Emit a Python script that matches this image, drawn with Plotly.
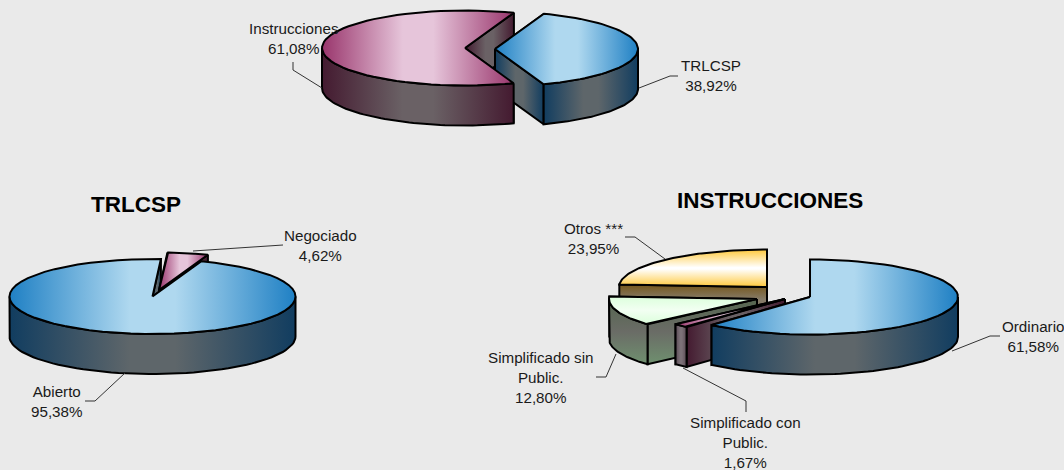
import numpy as np
import plotly.graph_objects as go

# datos
total_labels = ["TRLCSP", "Instrucciones"]
total_values = [38.92, 61.08]
trlcsp_labels = ["Abierto", "Negociado"]
trlcsp_values = [95.38, 4.62]
instr_labels = ["Ordinario", "Simplificado con<br>Public.", "Simplificado sin<br>Public.", "Otros ***"]
instr_values = [61.58, 1.67, 12.80, 23.95]

FONT = "Liberation Sans"
RX, RY, DEPTH = 143, 37.5, 40


def sym(edge, mid, lo=0.42):
    # degradado simetrico: borde oscuro, centro claro
    return [[0, edge], [lo, mid], [1 - lo, mid], [1, edge]]


BLUE = {"top": ("horizontal", sym("#1F80C4", "#AFD8EF")),
        "side": ("horizontal", sym("#113D60", "#5E666A")),
        "wall": ("horizontal", sym("#113D60", "#5E666A"))}
PINK = {"top": ("horizontal", sym("#99356C", "#E6C5DA")),
        "side": ("horizontal", sym("#441A30", "#6A6165")),
        "wall": ("horizontal", sym("#441A30", "#6A6165"))}
MAUVE = {"top": ("horizontal", sym("#99356C", "#E6C5DA")),
         "side": ("horizontal", sym("#5A4A54", "#7C7178")),
         "wall": ("horizontal", sym("#441A30", "#6A6165"))}
# el eje y va invertido, asi que 0 es la parte de abajo del poligono
YELLOW = {"top": ("vertical", sym("#FFC93C", "#FFFFFF", 0.48)),
          "side": ("vertical", [[0, "#857B68"], [0.65, "#857B68"], [1, "#75561A"]]),
          "wall": ("vertical", [[0, "#857B68"], [0.65, "#857B68"], [1, "#75561A"]])}
GREEN = {"top": ("vertical", [[0, "#DCFFDC"], [0.5, "#F2FFF2"], [1, "#DCFFDC"]]),
         "side": ("vertical", [[0, "#6F906F"], [0.5, "#6A6C66"], [1, "#55664F"]]),
         "wall": ("vertical", [[0, "#6F906F"], [0.5, "#6A6C66"], [1, "#55664F"]])}


def add_poly(fig, x, y, colors):
    kind, scale = colors
    fig.add_trace(go.Scatter(x=list(x) + [x[0]], y=list(y) + [y[0]], mode="lines", fill="toself",
                             fillgradient=dict(type=kind, colorscale=scale),
                             line=dict(color="black", width=2), hoverinfo="skip", showlegend=False))


def arc(cx, cy, rx, a, b):
    t = np.radians(np.linspace(a, b, 60))
    return cx + rx * np.sin(t), cy - RY * np.cos(t)


def draw_walls(fig, s):
    # la pared mas cercana al frente se dibuja la ultima
    for ang in sorted((s["a"], s["b"]), key=lambda d: -np.cos(np.radians(d))):
        ex, ey = arc(s["cx"], s["cy"], s["rx"], ang, ang)
        xs = [s["cx"], ex[0], ex[0], s["cx"]]
        ys = [s["cy"], ey[0], ey[0] + DEPTH, s["cy"] + DEPTH]
        add_poly(fig, xs, ys, s["col"]["wall"])


def draw_side(fig, s):
    for k in (0, 1):
        a = max(s["a"], 90 + 360 * k)
        b = min(s["b"], 270 + 360 * k)
        if b > a:
            ax, ay = arc(s["cx"], s["cy"], s["rx"], a, b)
            xs = np.concatenate([ax, ax[::-1]])
            ys = np.concatenate([ay, ay[::-1] + DEPTH])
            add_poly(fig, xs, ys, s["col"]["side"])


def draw_top(fig, s):
    ax, ay = arc(s["cx"], s["cy"], s["rx"], s["a"], s["b"])
    add_poly(fig, np.concatenate([[s["cx"]], ax]), np.concatenate([[s["cy"]], ay]), s["col"]["top"])


def slices(values, start, apexes, colors, rx=RX):
    out = []
    a = start
    for v, apex, col in zip(values, apexes, colors):
        b = a + v * 3.6
        out.append(dict(a=a, b=b, cx=apex[0], cy=apex[1], rx=rx, col=col))
        a = b
    return out


def pct(v):
    return f"{v:.2f}%".replace(".", ",")


fig = go.Figure()

# tarta superior
top = slices(total_values, 20, [(495, 49), (465, 48)], [BLUE, PINK])
draw_walls(fig, top[1])
draw_walls(fig, top[0])
draw_side(fig, top[0])
draw_top(fig, top[0])
draw_side(fig, top[1])
draw_top(fig, top[1])

# TRLCSP
left = slices(trlcsp_values, 20, [(152.5, 296.5), (159, 290)], [BLUE, PINK])
draw_walls(fig, left[0])
draw_walls(fig, left[1])
draw_top(fig, left[1])
draw_side(fig, left[0])
draw_top(fig, left[0])

# INSTRUCCIONES
right = slices(instr_values, 0, [(810, 297), (785, 299), (757, 299), (767, 287)],
               [BLUE, MAUVE, GREEN, YELLOW], rx=148)
for s in right[::-1]:
    draw_walls(fig, s)
    draw_side(fig, s)
    draw_top(fig, s)

# lineas guia de las etiquetas
leaders = [
    [(293, 62), (293, 70), (322, 88)],
    [(678, 76), (670, 76), (639, 88)],
    [(283, 245), (193, 251)],
    [(85, 401), (95, 401), (125, 373)],
    [(625, 237), (635, 237), (665, 259)],
    [(596, 377), (606, 377), (616, 354)],
    [(746, 412), (746, 401), (683, 368)],
    [(1000, 336), (990, 336), (952, 351)],
]
for pts in leaders:
    fig.add_trace(go.Scatter(x=[p[0] for p in pts], y=[p[1] for p in pts], mode="lines",
                             line=dict(color="#333333", width=1), hoverinfo="skip", showlegend=False))

labels = [
    (total_labels[1], total_values[1], 293.5, 38),
    (total_labels[0], total_values[0], 711, 75),
    (trlcsp_labels[1], trlcsp_values[1], 320, 245),
    (trlcsp_labels[0], trlcsp_values[0], 57, 401),
    (instr_labels[3], instr_values[3], 593, 238),
    (instr_labels[2], instr_values[2], 541, 377),
    (instr_labels[1], instr_values[1], 745, 442),
    (instr_labels[0], instr_values[0], 1033, 336),
]
annotations = []
for name, v, x, y in labels:
    annotations.append(dict(x=x, y=y, xref="x", yref="y", text=f"{name}<br>{pct(v)}", showarrow=False,
                            font=dict(family=FONT, size=15.2, color="#1A1A1A"), align="center"))
annotations.append(dict(x=136, y=204, xref="x", yref="y", text="<b>TRLCSP</b>", showarrow=False,
                        font=dict(family=FONT, size=22.5, color="black")))
annotations.append(dict(x=769.5, y=200, xref="x", yref="y", text="<b>INSTRUCCIONES</b>", showarrow=False,
                        font=dict(family=FONT, size=22.5, color="black")))

fig.update_layout(
    width=1064, height=470, margin=dict(l=0, r=0, t=0, b=0),
    paper_bgcolor="#EAEAEA", plot_bgcolor="#EAEAEA",
    xaxis=dict(range=[0, 1064], visible=False, fixedrange=True),
    yaxis=dict(range=[470, 0], visible=False, fixedrange=True),
    annotations=annotations, showlegend=False,
)

fig.write_html("out.html", config={"displayModeBar": False},
               post_script="document.body.style.margin='0';document.body.style.overflow='hidden';")
